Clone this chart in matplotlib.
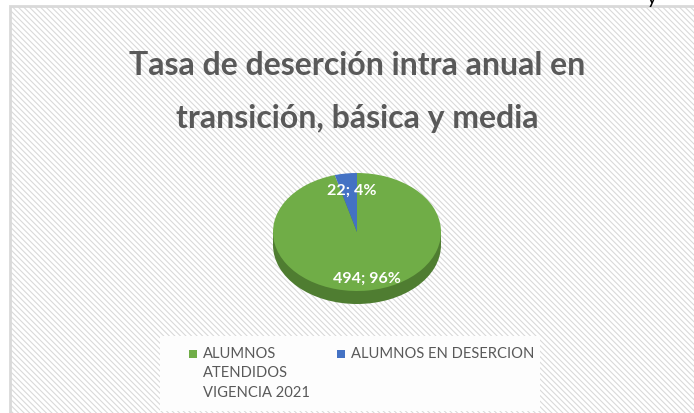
import matplotlib
matplotlib.use("Agg")
import matplotlib.pyplot as plt
from matplotlib.patches import Rectangle

# data
labels = ["ALUMNOS\nATENDIDOS\nVIGENCIA 2021", "ALUMNOS EN DESERCION"]
values = [494, 22]
colors = ["#70AD47", "#4472C4"]
side_color = "#4F7D31"
title_lines = ["Tasa de deserción intra anual en", "transición, básica y media"]

plt.rcParams['font.family'] = ['Lato', 'DejaVu Sans']
plt.rcParams['hatch.linewidth'] = 0.8
plt.rcParams['hatch.color'] = '#F1F1F1'

W, H = 694, 414
fig = plt.figure(figsize=(W / 100, H / 100), dpi=100)
fig.patch.set_facecolor('white')

# background axes in pixel coordinates
bg = fig.add_axes([0, 0, 1, 1])
bg.set_xlim(0, W)
bg.set_ylim(H, 0)
bg.axis('off')
bg.add_patch(Rectangle((10, 7), W, H, facecolor='white', edgecolor='#D9D9D9',
                       linewidth=2, hatch='\\\\\\\\\\\\'))
# legend box
bg.add_patch(Rectangle((160, 337), 380, 75, facecolor='#FDFDFD', edgecolor='none'))
# tail of a cut-off letter above the chart
bg.text(652, 4, "y", fontsize=14, color='black', ha='center', va='baseline', clip_on=False)

for line, yb in zip(title_lines, [75, 128]):
    bg.text(357, yb, line, ha='center', va='baseline', fontsize=23, fontweight='bold',
            color='#595959')

# pie (flattened, with depth)
cx0, cx1, cy0, cy1, depth = 273, 441, 174, 292, 13
ax = fig.add_axes([cx0 / W, (H - cy1 - depth) / H, (cx1 - cx0) / W, (cy1 - cy0 + depth) / H])
d = depth / ((cy1 - cy0) / 2)
ax.pie([1], colors=[side_color], center=(0, -d), radius=1, frame=True)
ax.add_patch(Rectangle((-1, -d), 2, d, facecolor=side_color, edgecolor='none'))
ax.pie(values, colors=colors, startangle=90, counterclock=False, radius=1, frame=True,
       wedgeprops=dict(edgecolor='none'))
ax.set_xlim(-1, 1)
ax.set_ylim(-1 - d, 1)
ax.set_aspect('auto')
ax.axis('off')

total = sum(values)
pos = [(367, 279), (352, 191)]
for v, (x, y) in zip(values, pos):
    ax.text(x, y, "%d; %d%%" % (v, round(100 * v / total)), ha='center', va='center',
            fontsize=11.5, fontweight='bold', color='white', transform=bg.transData,
            clip_on=False)

# legend
leg_x = [189, 337]
for lab, c, x in zip(labels, colors, leg_x):
    bg.add_patch(Rectangle((x, 351), 8, 8, facecolor=c, edgecolor='none'))
    bg.text(x + 14, 347, lab, ha='left', va='top', fontsize=10.6, color='#595959',
            linespacing=1.5)

fig.savefig("out.png", dpi=100)
